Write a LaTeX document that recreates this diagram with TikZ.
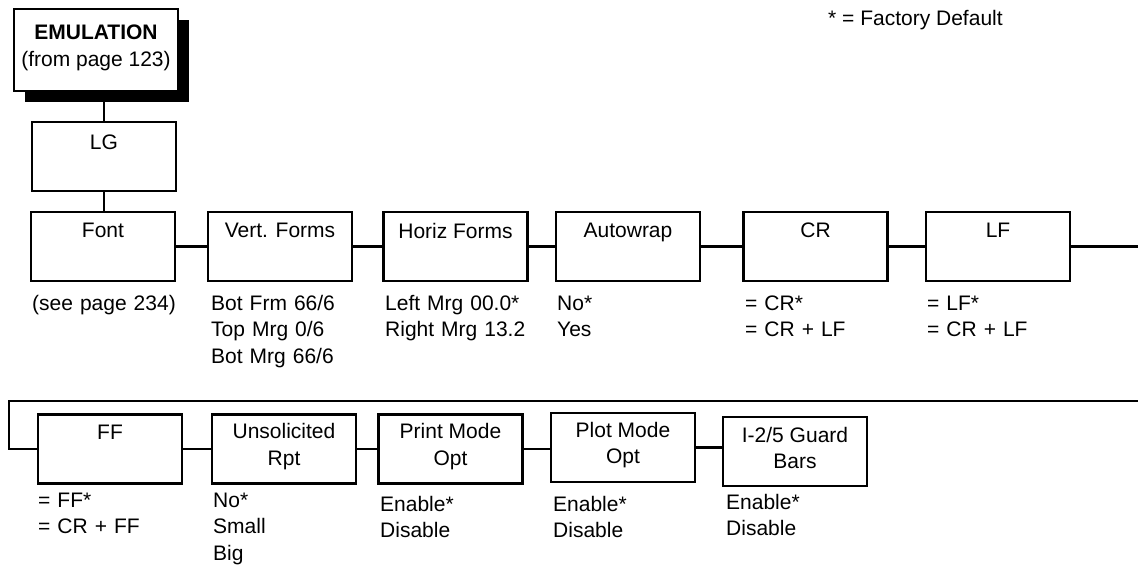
\documentclass[tikz,border=0pt]{standalone}
\usepackage{fontspec}
\setmainfont{Liberation Sans}
\usepackage{tikz}
\usetikzlibrary{shadows}
\tikzset{
    menu_box/.style={rectangle, draw, line width=2.3pt, fill=white, minimum width=144pt, minimum height=69pt, inner sep=0pt},
    top_box/.style={menu_box, minimum width=164pt, minimum height=82pt, drop shadow={opacity=1, fill=black, shadow xshift=11pt, shadow yshift=-11pt}},
    opt_list/.style={anchor=base west, text width=180pt, align=left, inner sep=0pt},
    link/.style={line width=2.3pt}
}
\newcommand{\boxtext}[2][47pt]{\parbox[t][#1]{140pt}{\centering #2}}

\begin{document}
\begin{tikzpicture}[x=1pt, y=-1pt, font=\fontsize{21}{26.5}\selectfont]

    \useasboundingbox (0,0) rectangle (1138,567);

    % Header
    \node[top_box] (emu) at (96,50)
    {\parbox[t][50pt]{156pt}{\centering\textbf{EMULATION}\\(from page 123)}};
    \node[menu_box] (lg) at (104,156.5) {\boxtext[43pt]{LG}};
    \node[anchor=base west, inner sep=0pt] (note) at (828,26) {* = Factory Default};

    % Boxes - Top row
    \node[menu_box] (font) at (103,246.5) {\boxtext{Font}};
    \node[menu_box] (vert) at (280,246.5) {\boxtext{Vert. Forms}};
    \node[menu_box] (horiz) at (455.5,246.5) {\boxtext{Horiz Forms}};
    \node[menu_box] (wrap) at (628,246.5) {\boxtext{Autowrap}};
    \node[menu_box] (cr) at (815.5,246.5) {\boxtext{CR}};
    \node[menu_box] (lf) at (998,246.5) {\boxtext{LF}};

    % Boxes - Bottom row
    \node[menu_box] (ff) at (110,449) {\boxtext{FF}};
    \node[menu_box] (unsol) at (284,449) {\boxtext[51pt]{Unsolicited\\Rpt}};
    \node[menu_box] (print) at (450.5,449) {\boxtext[51pt]{Print Mode\\Opt}};
    \node[menu_box] (plot) at (623,447.5) {\boxtext[51pt]{Plot Mode\\Opt}};
    \node[menu_box] (guard) at (795,451.5) {\boxtext[49pt]{I-2/5 Guard\\Bars}};

    % Options - Top row
    \node[opt_list] (font_opt) at (32,310) {(see page 234)};
    \node[opt_list] (vert_opt) at (211,310) {Bot Frm 66/6\\Top Mrg 0/6\\Bot Mrg 66/6};
    \node[opt_list] (horiz_opt) at (385,310) {Left Mrg 00.0*\\Right Mrg 13.2};
    \node[opt_list] (wrap_opt) at (557,310) {No*\\Yes};
    \node[opt_list] (cr_opt) at (745,310) {= CR*\\= CR + LF};
    \node[opt_list] (lf_opt) at (927,310) {= LF*\\= CR + LF};

    % Options - Bottom row
    \node[opt_list] (ff_opt) at (38,507) {= FF*\\= CR + FF};
    \node[opt_list] (unsol_opt) at (213,507) {No*\\Small\\Big};
    \node[opt_list] (print_opt) at (380,511) {Enable*\\Disable};
    \node[opt_list] (plot_opt) at (553,511) {Enable*\\Disable};
    \node[opt_list] (guard_opt) at (726,509) {Enable*\\Disable};

    % Lines
    \coordinate (row_end) at (1140,246.5);
    \coordinate (loop_r) at (1140,401);
    \coordinate (loop_l) at (9,401);
    \draw[link] (lg.north) -- (lg.north |- emu.south);
    \draw[link] (lg.south) -- (lg.south |- font.north);
    \draw[link] (font.east) -- (vert.west);
    \draw[link] (vert.east) -- (horiz.west);
    \draw[link] (horiz.east) -- (wrap.west);
    \draw[link] (wrap.east) -- (cr.west);
    \draw[link] (cr.east) -- (lf.west);
    \draw[link] (lf.east) -- (row_end);
    \draw[link] (loop_r) -- (loop_l) |- (ff.west);
    \draw[link] (ff.east) -- (unsol.west);
    \draw[link] (unsol.east) -- (print.west);
    \draw[link] (print.east) -- (print.east -| plot.west);
    \draw[link] (plot.east) -- (plot.east -| guard.west);

\end{tikzpicture}
\end{document}
